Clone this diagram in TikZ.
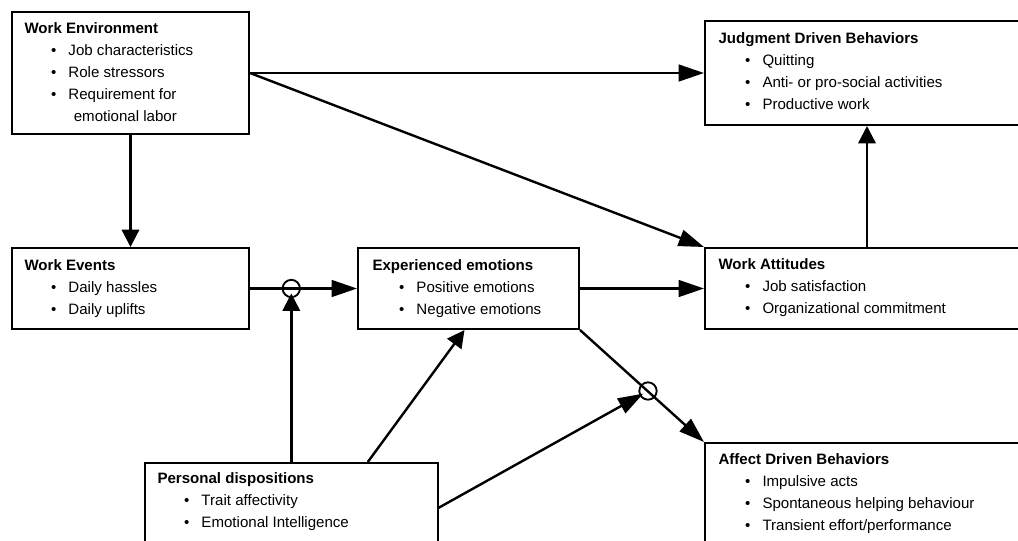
\documentclass[tikz,border=0pt]{standalone}
\usepackage{fontspec}
\setmainfont{Liberation Sans}
\usetikzlibrary{arrows.meta,calc}
\newcommand{\itm}[1]{\hspace*{20pt}\makebox[13pt][l]{\textbullet}#1}
\tikzset{every picture/.style={line width=0.75pt}}

\begin{document}
\begin{tikzpicture}[x=0.75pt,y=0.75pt,yscale=-1,xscale=1,
    box/.style={draw, line width=1.5pt, anchor=north west, inner sep=0pt},
    lbl/.style={anchor=north west, align=left, inner sep=0pt, font=\fontsize{11.3}{16.5}\selectfont},
    ring/.style={draw, circle, line width=1.4pt, inner sep=0pt, minimum size=13pt},
    arrh/.style={line width=1.8pt, -{Triangle[length=19pt,width=12.5pt]}},
    arrv/.style={line width=1.8pt, -{Triangle[length=13pt,width=13pt]}}]
    \useasboundingbox (0,0) rectangle (1018,540);

    % boxes
    \node[box, minimum width=177.75pt, minimum height=91.5pt] (wenv) at (11,11) {};
    \node[box, minimum width=243pt, minimum height=78pt] (jdb) at (704,20) {};
    \node[box, minimum width=177.75pt, minimum height=60.75pt] (wev) at (11,247) {};
    \node[box, minimum width=165.75pt, minimum height=60.75pt] (exem) at (357,247) {};
    \node[box, minimum width=243pt, minimum height=60.75pt] (watt) at (704,247) {};
    \node[box, line width=1.2pt, minimum width=219.75pt, minimum height=67.5pt] (pdis) at (144,462) {};
    \node[box, minimum width=243pt, minimum height=90pt] (adb) at (704,442) {};

    % box texts
    \node[lbl] (wenvtxt) at ($(wenv.north west)+(13,11)$) {\textbf{Work Environment}\\
        \itm{Job characteristics}\\ \itm{Role stressors}\\ \itm{Requirement for}\\
        \hspace*{37pt}emotional labor};
    \node[lbl] (jdbtxt) at ($(jdb.north west)+(14,12)$) {\textbf{Judgment Driven Behaviors}\\
        \itm{Quitting}\\ \itm{Anti- or pro-social activities}\\ \itm{Productive work}};
    \node[lbl] (wevtxt) at ($(wev.north west)+(13,12)$) {\textbf{Work Events}\\
        \itm{Daily hassles}\\ \itm{Daily uplifts}};
    \node[lbl] (exemtxt) at ($(exem.north west)+(15,12)$) {\textbf{Experienced emotions}\\
        \itm{Positive emotions}\\ \itm{Negative emotions}};
    \node[lbl] (watttxt) at ($(watt.north west)+(14,11)$) {\textbf{Work Attitudes}\\
        \itm{Job satisfaction}\\ \itm{Organizational commitment}};
    \node[lbl] (pdistxt) at ($(pdis.north west)+(13,10)$) {\textbf{Personal dispositions}\\
        \itm{Trait affectivity}\\ \itm{Emotional Intelligence}};
    \node[lbl] (adbtxt) at ($(adb.north west)+(14,11)$) {\textbf{Affect Driven Behaviors}\\
        \itm{Impulsive acts}\\ \itm{Spontaneous helping behaviour}\\ \itm{Transient effort/performance}};

    % moderators
    \node[ring] (mod1) at (pdis.north |- wev.east) {};
    \node[ring] (mod2) at (648,391) {};

    % links
    \draw[arrh] (wenv.east) -- (jdb.west);
    \draw[arrh] (wenv.east) -- (watt.north west);
    \draw[arrv] (wenv.south) -- (wev.north);
    \draw[arrh] (wev.east) -- (exem.west);
    \draw[arrh] (exem.east) -- (watt.west);
    \draw[arrv] (watt.north) -- (jdb.south);
    \draw[arrh] (exem.south east) -- (adb.north west);
    \draw[arrv] (pdis.north) -- ($(mod1.center)+(0,5)$);
    \draw[arrv] ($(pdis.north)+(76.5,0)$) -- ($(exem.south)+(-4,0)$);
    \draw[arrh, shorten >=4pt] (pdis.east) -- (mod2.center);

\end{tikzpicture}
\end{document}
